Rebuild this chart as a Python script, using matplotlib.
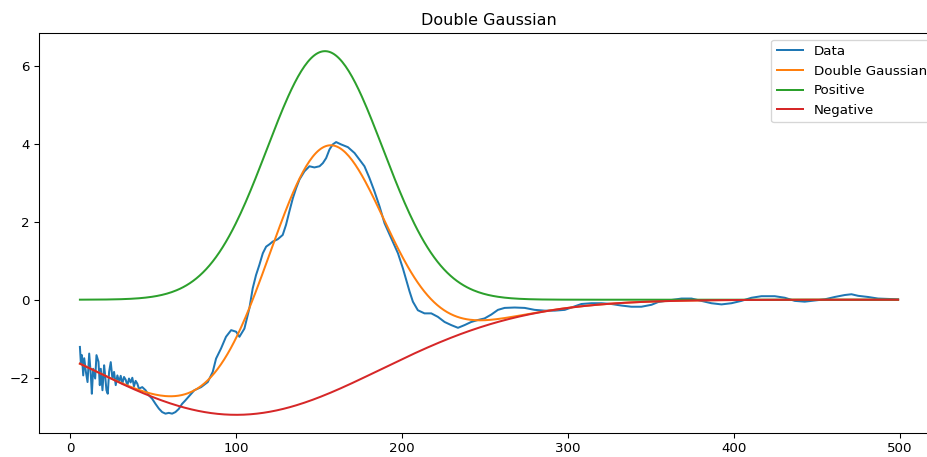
# double gaussian fit of the measured trace
import numpy as np
import matplotlib.pyplot as plt

data_x = [5.7, 6.3, 6.9, 7.7, 8.3, 9.3, 10.3, 11.3, 12.3, 12.9, 13.7, 14.9, 15.7, 16.9,
          17.7, 18.3, 19.3, 20.3, 20.9, 21.7, 22.5, 23.3, 24.3, 25.3, 26.3, 27.3, 28.3,
          29.3, 30.3, 31.3, 32.3, 33.3, 34.3, 35.3, 36.3, 37.3, 38.3, 39.3, 40.3, 41.3,
          43.3, 45.3, 47.3, 49.3, 51.3, 53.3,
          55.3, 57.3, 59.3, 61.3, 63.3, 65.3, 67.3, 69.3,
          74.7, 78.8, 82.8, 85.8, 87.8, 90.8, 93.8, 96.9, 99.9, 101.9, 104.9, 107.9,
          109.9, 111.9, 113.9, 116.0, 118.0, 120.0, 122.0, 125.0,
          128.0, 130.0, 132.0, 134.1, 136.1, 138.1, 141.1, 144.1, 147.1, 150.2, 152.2,
          154.2, 156.2, 158.2, 160.2, 163.2, 167.3, 171.3, 174.3, 177.3, 180.3, 183.3,
          186.4,
          189.4, 193.4, 197.5, 200.5, 202.5, 204.5, 206.5, 209.5, 213.5, 217.6, 221.6,
          225.6, 229.6, 233.7, 237.7, 241.7, 245.7, 249.7, 253.8,
          257.8, 261.8, 267.9, 273.9, 279.9, 286.0, 292.0, 298.1, 304.1, 308.1, 314.2,
          320.2, 326.2, 332.3, 338.3, 344.3, 350.4, 354.4, 360.4, 368.5, 374.5,
          380.5, 386.5, 392.6, 398.6, 404.6, 410.7, 416.7, 424.7, 430.8, 436.8, 442.8,
          448.9, 454.9, 460.9, 466.9, 471.0, 475.0, 481.0, 487.0, 493.1, 499.1]
data_y = [-1.21, -1.64, -1.42, -1.94, -1.50, -1.85, -2.11, -1.38, -1.94, -2.41, -1.77,
          -2.02, -1.42, -1.59, -2.19, -1.77, -2.32, -1.68, -1.94, -2.32, -2.41, -1.85,
          -1.60, -2.02, -1.85, -2.19, -1.94, -2.11, -1.95, -2.15, -1.98, -2.05, -2.20,
          -2.02, -2.12, -2.00, -2.22, -2.08, -2.15, -2.28,
          -2.24, -2.32, -2.45, -2.54, -2.67, -2.79,
          -2.88, -2.92, -2.90, -2.92, -2.88, -2.80, -2.67, -2.58,
          -2.32, -2.24, -2.11, -1.85, -1.51, -1.25, -0.95, -0.78, -0.82, -0.95, -0.74,
          -0.22, 0.29, 0.63, 0.89, 1.19, 1.36, 1.42, 1.49, 1.55,
          1.66, 1.92, 2.26, 2.60, 2.86, 3.08, 3.29, 3.42, 3.39, 3.42, 3.50, 3.63, 3.85,
          3.98, 4.04, 3.98, 3.91, 3.76, 3.59, 3.42, 3.12, 2.78, 2.39,
          1.96, 1.58, 1.19, 0.80, 0.51, 0.21, -0.05, -0.27, -0.35, -0.35, -0.44, -0.57,
          -0.65, -0.72, -0.65, -0.57, -0.52, -0.48, -0.38,
          -0.26, -0.21, -0.20, -0.21, -0.26, -0.28, -0.28, -0.26, -0.17, -0.11, -0.09,
          -0.09, -0.11, -0.15, -0.18, -0.18, -0.13, -0.06, -0.02, 0.03, 0.03,
          -0.03, -0.09, -0.12, -0.09, -0.03, 0.05, 0.09, 0.09, 0.05, -0.03, -0.05,
          -0.02, 0.01, 0.07, 0.12, 0.14, 0.10, 0.07, 0.03, 0.02, 0.01]

# fitted parameters: amplitude, centre, width
pos_amp, pos_mu, pos_sigma = 6.37, 153.5, 35.0
neg_amp, neg_mu, neg_sigma = -2.95, 100.0, 87.0


def gauss(x, a, mu, s):
    return a * np.exp(-(x - mu) ** 2 / (2 * s ** 2))


x = np.array(data_x)
x_fit = np.linspace(x.min(), x.max(), 500)
positive = gauss(x_fit, pos_amp, pos_mu, pos_sigma)
negative = gauss(x_fit, neg_amp, neg_mu, neg_sigma)

fig = plt.figure(figsize=(927 / 96, 457 / 96), dpi=96)
ax = fig.add_axes([39 / 927, 24 / 457, 900 / 927, 400 / 457])
ax.plot(data_x, data_y, label='Data')
ax.plot(x_fit, positive + negative, label='Double Gaussian')
ax.plot(x_fit, positive, label='Positive')
ax.plot(x_fit, negative, label='Negative')
ax.set_title('Double Gaussian')
ax.legend(loc='upper right')

fig.savefig('out.png', dpi=96)
